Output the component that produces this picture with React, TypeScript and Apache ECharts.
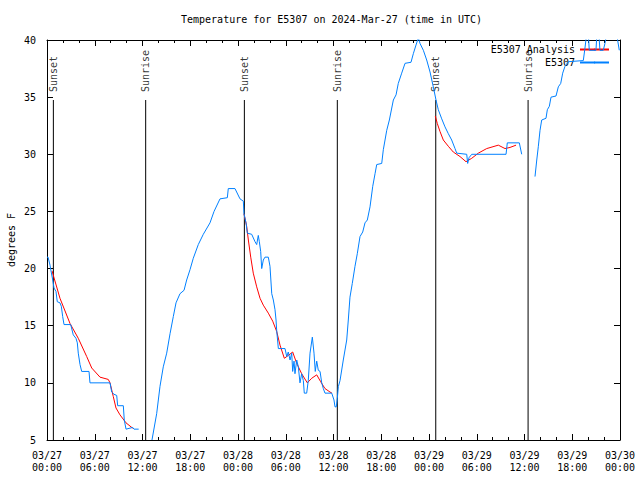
import React, { useEffect, useRef } from "react";
import * as echarts from "echarts";

// Times are hours since 2024-03-27 00:00 UTC; temperatures in degrees F.
const TITLE = "Temperature for E5307 on 2024-Mar-27 (time in UTC)";
const Y_NAME = "degrees F";
const OBS_NAME = "E5307";
const ANALYSIS_NAME = "E5307 Analysis";

const OBS_SEG1: [number, number][] = [
  [0, 21.0], [0.13, 21.0], [0.38, 20.3], [0.5, 19.8], [0.72, 19.0], [0.88, 18.3], [1.13, 18.0],
  [1.29, 17.1], [1.63, 17.0], [1.8, 16.7], [1.97, 15.8], [2.14, 15.1], [2.98, 15.1], [3.3, 14.2],
  [3.64, 13.9], [3.81, 13.5], [3.93, 12.6], [4.15, 11.6], [4.36, 11.0], [5.28, 11.0], [5.4, 10.0],
  [7.92, 10.0], [8.13, 9.2], [8.42, 9.0], [8.76, 8.9], [8.88, 8.0], [9.59, 8.0], [9.71, 6.75],
  [9.93, 5.95], [10.77, 6.1], [10.93, 5.95], [11.52, 5.95],
];

const OBS_SEG2: [number, number][] = [
  [13.19, 5.0], [13.78, 7.3], [14.2, 9.7], [14.61, 11.4], [15.04, 12.6], [15.46, 14.3], [15.87, 15.8],
  [16.21, 17.0], [16.71, 17.8], [17.22, 18.1], [17.55, 19.0], [17.97, 19.9], [18.38, 20.9],
  [19.01, 22.1], [19.64, 23.0], [20.48, 24.0], [20.99, 25.0], [21.74, 26.1], [22.66, 26.2],
  [22.78, 27.0], [23.62, 27.0], [24.25, 26.1], [24.67, 25.9], [24.75, 24.8], [25.01, 24.0],
  [25.17, 23.1], [25.72, 23.0], [26.14, 22.35], [26.35, 22.1], [26.55, 22.9], [26.68, 22.35],
  [26.85, 21.5], [26.98, 20.0], [27.18, 20.75], [27.39, 21.0], [27.81, 21.0], [28.02, 20.2],
  [28.24, 17.8], [28.44, 17.25], [28.65, 16.4], [28.78, 15.5], [28.86, 14.6], [29.07, 13.0],
  [29.91, 13.0], [30.12, 12.3], [30.32, 12.7], [30.54, 12.0], [30.75, 12.6], [30.87, 11.0],
  [31.04, 11.9], [31.16, 10.8], [31.38, 12.0], [31.58, 11.4], [31.79, 10.0], [32.0, 10.8],
  [32.21, 10.2], [32.33, 9.1], [32.63, 9.1], [32.83, 10.2], [33.05, 12.6], [33.34, 14.0],
  [33.55, 12.6], [33.71, 11.0], [33.89, 11.9], [34.09, 11.1], [34.31, 11.0], [34.52, 10.0],
  [34.72, 9.5], [34.93, 9.1], [35.78, 9.1], [36.06, 8.5], [36.19, 7.9], [36.35, 7.9],
  [36.48, 8.65], [36.61, 9.67], [36.82, 10.2], [37.23, 12.0], [37.66, 13.75], [37.86, 15.5],
  [38.07, 17.5], [38.36, 18.7], [38.7, 20.2], [38.99, 21.3], [39.33, 22.8], [39.67, 23.2],
  [39.96, 24.0], [40.25, 24.25], [40.59, 25.4], [40.93, 27.2], [41.22, 28.3], [41.43, 29.1],
  [42.06, 29.2], [42.26, 30.4], [42.69, 32.1], [43.02, 33.0], [43.52, 34.75], [43.86, 35.2],
  [44.14, 36.2], [44.57, 37.1], [44.99, 37.96], [45.74, 38.05], [46.03, 38.8], [46.37, 39.56],
  [46.66, 40.2], [46.87, 39.7], [47.29, 39.1], [47.71, 38.25], [48.13, 37.2], [48.54, 35.9],
  [48.88, 34.75], [49.17, 33.9], [49.6, 33.1], [50.01, 32.4], [50.43, 31.8], [50.85, 31.25],
  [51.27, 30.5], [51.48, 30.1], [52.74, 30.0], [52.86, 29.2], [53.03, 29.7], [53.37, 30.0],
  [57.68, 30.0], [57.84, 31.0], [59.35, 31.0], [59.65, 30.0],
];

const OBS_SEG3: [number, number][] = [
  [61.32, 28.05], [61.54, 29.5], [61.74, 30.7], [61.95, 32.1], [62.16, 33.0], [62.7, 33.15],
  [62.87, 33.9], [63.12, 34.2], [63.33, 35.0], [63.96, 35.1], [64.25, 35.9], [64.55, 36.2],
  [64.8, 37.1], [65.09, 37.7], [65.5, 38.1], [67.39, 38.2], [67.6, 39.3], [67.8, 40.5],
  [68.02, 40.5], [68.14, 39.1], [68.98, 39.1], [69.1, 40.5], [69.35, 40.5], [69.48, 39.1],
  [69.9, 39.1], [70.11, 39.7], [70.32, 40.5], [71.58, 40.5], [71.91, 39.1],
];

const ANALYSIS_SEG1: [number, number][] = [
  [0.63, 19.8], [1.63, 17.4], [2.89, 15.2], [3.93, 13.9], [4.99, 12.3], [5.62, 11.3], [6.66, 10.5],
  [7.7, 10.3], [7.92, 10.0], [8.33, 8.8], [8.67, 7.8], [9.17, 7.2], [9.93, 6.5], [10.77, 6.03],
];

const ANALYSIS_SEG2: [number, number][] = [
  [24.75, 24.8], [25.09, 23.7], [25.3, 22.5], [25.6, 21.0], [25.92, 19.6], [26.35, 18.4],
  [26.77, 17.4], [27.18, 16.8], [27.81, 16.1], [28.36, 15.4], [28.86, 14.5], [29.28, 13.3],
  [29.82, 12.15], [30.32, 12.4], [30.87, 12.7], [31.38, 11.7], [32.0, 10.8], [32.71, 10.0],
  [33.26, 10.4], [33.89, 10.7], [34.39, 10.1], [34.93, 9.5], [35.56, 9.2], [35.8, 9.1],
];

const ANALYSIS_SEG3: [number, number][] = [
  [48.79, 33.35], [49.04, 32.7], [49.38, 32.0], [49.8, 31.25], [50.43, 30.7], [51.05, 30.2],
  [51.9, 29.8], [52.65, 29.35], [53.37, 29.65], [54.2, 30.1], [55.25, 30.5], [56.71, 30.8],
  [57.55, 30.5], [58.18, 30.6], [58.94, 30.8],
];

const SUN_TIMES = [0.8, 12.4, 24.8, 36.48, 48.85, 60.45];
const SUN_LABELS = ["Sunset", "Sunrise", "Sunset", "Sunrise", "Sunset", "Sunrise"];
const SUN_LINE_TOP = 34.75;
const SUN_LABEL_Y = 35.45;

const X_MIN = 0;
const X_MAX = 72;
const Y_MIN = 5;
const Y_MAX = 40;

const FONT = "DejaVu Sans Mono";
const BLUE = "#0080ff";
const RED = "#ff0000";

function xLabel(v: number): string {
  const day = 27 + Math.floor(v / 24);
  const hh = Math.round(v % 24);
  return `03/${String(day).padStart(2, "0")}\n${String(hh).padStart(2, "0")}:00`;
}

export default function App() {
  const ref = useRef<HTMLDivElement>(null);
  useEffect(() => {
    if (!ref.current) return;
    const chart = echarts.init(ref.current, undefined, { renderer: "svg" });
    const axisCommon = {
      axisLine: { show: true, onZero: false, lineStyle: { color: "#000", width: 1 } },
      splitLine: { show: false },
    };
    const lineSeries = (name: string, data: [number, number][], color: string, z: number) => ({
      name,
      type: "line",
      data,
      symbol: "none",
      showSymbol: false,
      clip: true,
      silent: true,
      z,
      lineStyle: { color, width: 1 },
      itemStyle: { color },
    });
    const sunSeries = SUN_TIMES.map((t) => ({
      type: "line",
      data: [
        [t, Y_MIN],
        [t, SUN_LINE_TOP],
      ],
      symbol: "none",
      silent: true,
      z: 1,
      lineStyle: { color: "#000", width: 1 },
    }));
    chart.setOption({
      animation: false,
      backgroundColor: "#fff",
      textStyle: { fontFamily: FONT, fontSize: 10, color: "#000" },
      title: {
        text: TITLE,
        left: 181,
        top: 13,
        padding: 0,
        textStyle: { fontFamily: FONT, fontSize: 10, fontWeight: "normal", color: "#000", lineHeight: 12 },
      },
      legend: {
        orient: "vertical",
        right: 30,
        top: 43,
        padding: 0,
        itemGap: 0,
        itemWidth: 29,
        itemHeight: 2,
        align: "right",
        data: [ANALYSIS_NAME, OBS_NAME],
        textStyle: { fontFamily: FONT, fontSize: 10, color: "#000", lineHeight: 13 },
        selectedMode: false,
      },
      grid: { left: 47, right: 20, top: 40, bottom: 40, outerBoundsMode: "none", containLabel: false },
      xAxis: [
        {
          type: "value",
          min: X_MIN,
          max: X_MAX,
          interval: 6,
          position: "bottom",
          ...axisCommon,
          axisTick: { show: true, inside: true, length: 6, lineStyle: { color: "#000" } },
          minorTick: { show: true, splitNumber: 3, length: 3, lineStyle: { color: "#000" } },
          axisLabel: {
            formatter: xLabel,
            margin: 9,
            fontFamily: FONT,
            fontSize: 10,
            lineHeight: 12,
            color: "#000",
            showMinLabel: true,
            showMaxLabel: true,
          },
        },
        {
          type: "value",
          min: X_MIN,
          max: X_MAX,
          interval: 6,
          position: "top",
          ...axisCommon,
          axisTick: { show: true, inside: true, length: 6, lineStyle: { color: "#000" } },
          minorTick: { show: true, splitNumber: 3, length: 3, lineStyle: { color: "#000" } },
          axisLabel: { show: false },
        },
      ],
      yAxis: [
        {
          type: "value",
          min: Y_MIN,
          max: Y_MAX,
          interval: 5,
          position: "left",
          name: Y_NAME,
          nameLocation: "middle",
          nameGap: 31,
          nameMoveOverlap: false,
          nameTextStyle: { fontFamily: FONT, fontSize: 10, color: "#000" },
          ...axisCommon,
          axisTick: { show: true, inside: true, length: 6, lineStyle: { color: "#000" } },
          axisLabel: { margin: 11, fontFamily: FONT, fontSize: 10, color: "#000" },
        },
        {
          type: "value",
          min: Y_MIN,
          max: Y_MAX,
          interval: 5,
          position: "right",
          ...axisCommon,
          axisTick: { show: true, inside: true, length: 6, lineStyle: { color: "#000" } },
          axisLabel: { show: false },
        },
      ],
      series: [
        ...sunSeries,
        {
          type: "scatter",
          data: SUN_TIMES.map((t, i) => ({ value: [t, SUN_LABEL_Y], name: SUN_LABELS[i] })),
          symbolSize: 0,
          silent: true,
          z: 2,
          label: {
            show: true,
            formatter: "{b}",
            position: [0, 0],
            align: "left",
            verticalAlign: "middle",
            rotate: 90,
            fontFamily: FONT,
            fontSize: 10,
            color: "#000",
          },
        },
        lineSeries(ANALYSIS_NAME, ANALYSIS_SEG1, RED, 3),
        lineSeries(ANALYSIS_NAME, ANALYSIS_SEG2, RED, 3),
        lineSeries(ANALYSIS_NAME, ANALYSIS_SEG3, RED, 3),
        lineSeries(OBS_NAME, OBS_SEG1, BLUE, 4),
        lineSeries(OBS_NAME, OBS_SEG2, BLUE, 4),
        lineSeries(OBS_NAME, OBS_SEG3, BLUE, 4),
      ],
    });
    return () => chart.dispose();
  }, []);
  return (
    <div
      ref={ref}
      style={{ position: "absolute", left: 0, top: 0, width: 640, height: 480, background: "#fff" }}
    />
  );
}
